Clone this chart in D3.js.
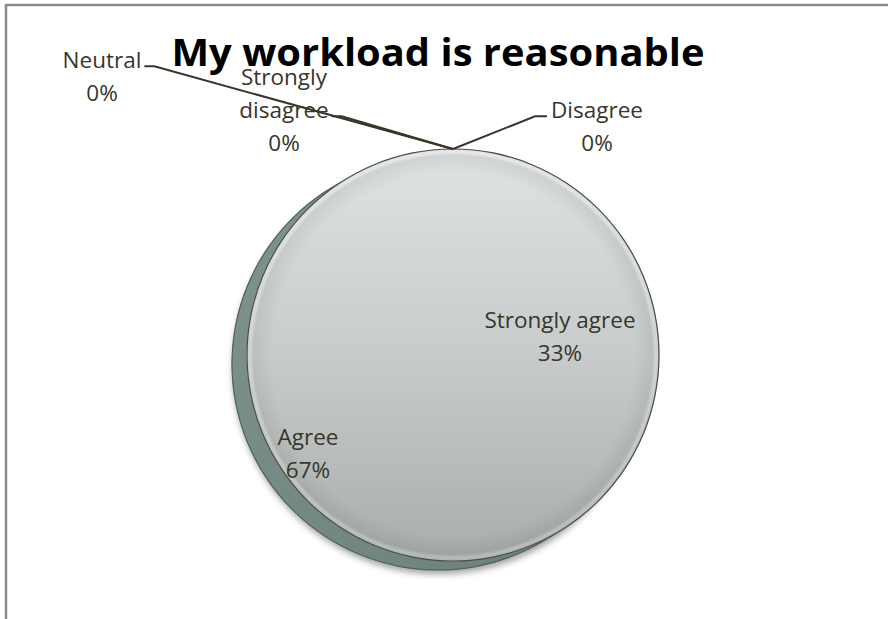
<!DOCTYPE html>
<html>
<head>
<meta charset="utf-8">
<script src="https://cdn.jsdelivr.net/npm/d3@7"></script>
<style>
  body { margin: 0; background: #fff; }
  svg { display: block; }
</style>
</head>
<body>
<script>
// data
const categories = ['Strongly agree', 'Agree', 'Disagree', 'Strongly disagree', 'Neutral'];
const values = [33, 67, 0, 0, 0];
const percentLabels = ['33%', '67%', '0%', '0%', '0%'];

const W = 888, H = 619;
const cx = 453, cy = 355, r = 206;
const side = { dx: -15, dy: 9 };     // offset of the dark "depth" layer
const lineH = 33;
const labelFont = "'Open Sans', sans-serif";

// where Excel put each label (text centre x, first baseline y) and leader hook
const labelLayout = {
  'Strongly agree':    { inside: true, dx: 107, dy: -27, lines: ['Strongly agree'] },
  'Agree':             { inside: true, dx: -145, dy: 90, lines: ['Agree'] },
  'Disagree':          { x: 597, y: 118, lines: ['Disagree'], hook: 'left', hookLine: 0 },
  'Strongly disagree': { x: 284, y: 85, lines: ['Strongly', 'disagree'], hook: 'right', hookLine: 1 },
  'Neutral':           { x: 102, y: 68, lines: ['Neutral'], hook: 'right', hookLine: 0 }
};

const svg = d3.select('body').append('svg')
  .attr('width', W)
  .attr('height', H);

const defs = svg.append('defs');

const topGrad = defs.append('linearGradient')
  .attr('id', 'topGrad')
  .attr('gradientUnits', 'userSpaceOnUse')
  .attr('x1', 0).attr('y1', -r).attr('x2', 0).attr('y2', r);
topGrad.append('stop').attr('offset', '0%').attr('stop-color', '#dfe4e2');
topGrad.append('stop').attr('offset', '50%').attr('stop-color', '#c7ccca');
topGrad.append('stop').attr('offset', '100%').attr('stop-color', '#a8aeac');

const edgeGrad = defs.append('radialGradient')
  .attr('id', 'edgeGrad')
  .attr('gradientUnits', 'userSpaceOnUse')
  .attr('cx', 0).attr('cy', 0).attr('r', r);
edgeGrad.append('stop').attr('offset', '0.88').attr('stop-color', '#000').attr('stop-opacity', 0);
edgeGrad.append('stop').attr('offset', '0.96').attr('stop-color', '#000').attr('stop-opacity', 0.06);
edgeGrad.append('stop').attr('offset', '0.982').attr('stop-color', '#fff').attr('stop-opacity', 0.18);
edgeGrad.append('stop').attr('offset', '1').attr('stop-color', '#fff').attr('stop-opacity', 0.05);

const sideGrad = defs.append('linearGradient')
  .attr('id', 'sideGrad')
  .attr('gradientUnits', 'userSpaceOnUse')
  .attr('x1', -r).attr('y1', -r).attr('x2', r).attr('y2', r);
sideGrad.append('stop').attr('offset', '0%').attr('stop-color', '#7f948e');
sideGrad.append('stop').attr('offset', '100%').attr('stop-color', '#6a7f79');

const shadow = defs.append('filter')
  .attr('id', 'shadow')
  .attr('x', '-20%').attr('y', '-20%').attr('width', '140%').attr('height', '140%');
shadow.append('feDropShadow')
  .attr('dx', 1).attr('dy', 4)
  .attr('stdDeviation', 3)
  .attr('flood-color', '#000')
  .attr('flood-opacity', 0.35);

// chart frame (only left and top edges are in the picture)
svg.append('path')
  .attr('d', `M6,${H} V5 H${W}`)
  .attr('fill', 'none')
  .attr('stroke', '#8c8c8c')
  .attr('stroke-width', 2.5);

const pie = d3.pie().sort(null).value(d => d)(values);
const arc = d3.arc().innerRadius(0).outerRadius(r);
const ring = d3.arc().innerRadius(r - 0.6).outerRadius(r + 0.6);

// depth layer
svg.append('g')
  .attr('transform', `translate(${cx + side.dx},${cy + side.dy})`)
  .attr('filter', 'url(#shadow)')
  .selectAll('path')
  .data(pie.filter(d => d.value > 0))
  .join('path')
  .attr('d', arc)
  .attr('fill', 'url(#sideGrad)')
  .attr('stroke', 'url(#sideGrad)')
  .attr('stroke-width', 1);

svg.append('path')
  .attr('transform', `translate(${cx + side.dx},${cy + side.dy})`)
  .attr('d', ring({ startAngle: 0, endAngle: 2 * Math.PI }))
  .attr('fill', '#52625e');

// top face
const topG = svg.append('g')
  .attr('transform', `translate(${cx},${cy})`);

topG.selectAll('path.slice')
  .data(pie.filter(d => d.value > 0))
  .join('path')
  .attr('class', 'slice')
  .attr('d', arc)
  .attr('fill', 'url(#topGrad)')
  .attr('stroke', 'url(#topGrad)')
  .attr('stroke-width', 1);

topG.selectAll('path.edge')
  .data(pie.filter(d => d.value > 0))
  .join('path')
  .attr('class', 'edge')
  .attr('d', arc)
  .attr('fill', 'url(#edgeGrad)');

topG.append('path')
  .attr('d', ring({ startAngle: 0, endAngle: 2 * Math.PI }))
  .attr('fill', '#4a4a4a');

// title
svg.append('text')
  .attr('x', 438)
  .attr('y', 66)
  .attr('text-anchor', 'middle')
  .attr('font-family', labelFont)
  .attr('font-weight', 'bold')
  .attr('font-size', 38)
  .attr('fill', '#000')
  .attr('textLength', 533)
  .attr('lengthAdjust', 'spacingAndGlyphs')
  .text('My workload is reasonable');

// labels
const labelG = svg.append('g');

pie.forEach((d, i) => {
  const name = categories[i];
  const lay = labelLayout[name];
  const lines = lay.lines.concat([percentLabels[i]]);
  let x, y;
  if (lay.inside) {
    x = cx + lay.dx;
    y = cy + lay.dy;
  } else {
    x = lay.x;
    y = lay.y;
  }
  const t = labelG.append('text')
    .attr('text-anchor', 'middle')
    .attr('font-family', labelFont)
    .attr('font-size', 22.5)
    .attr('fill', '#38352b');
  const spans = lines.map((s, k) => t.append('tspan')
    .attr('x', x)
    .attr('y', y + k * lineH)
    .text(s));

  if (!lay.inside) {
    // leader from the slice's point on the rim to the label
    const a = d.startAngle;
    const px = cx + r * Math.sin(a);
    const py = cy - r * Math.cos(a);
    const bb = spans[lay.hookLine].node().getBBox();
    const hy = bb.y + bb.height * 0.72;
    let near, far;
    if (lay.hook === 'right') {
      far = bb.x + bb.width + 3;
      near = far + 10;
    } else {
      far = bb.x - 4;
      near = far - 12;
    }
    labelG.insert('path', 'text')
      .attr('d', `M${px},${py} L${near},${hy} L${far},${hy}`)
      .attr('fill', 'none')
      .attr('stroke', '#3a3528')
      .attr('stroke-width', 2);
  }
});
</script>
</body>
</html>
